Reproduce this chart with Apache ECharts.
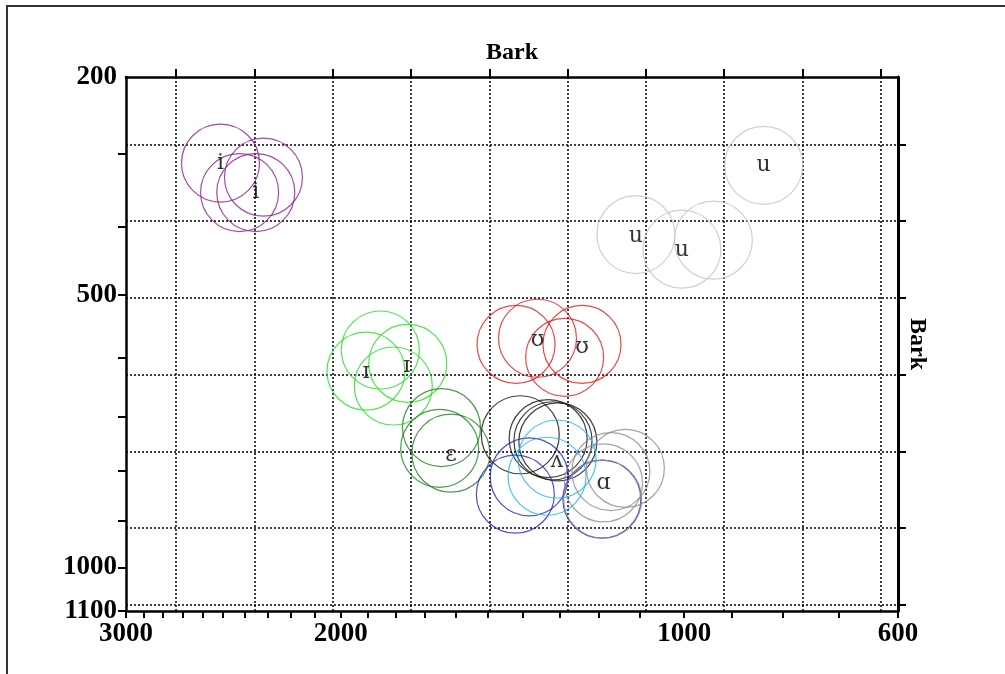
<!DOCTYPE html>
<html><head><meta charset="utf-8">
<script src="https://cdn.jsdelivr.net/npm/echarts@6/dist/echarts.min.js"></script>
<style>html,body{margin:0;padding:0;background:#fff}#c{width:1005px;height:674px}</style>
</head><body><div id="c"></div>
<script>
// ---- data (Hz) ----
const iF2 = [2513, 2317, 2424, 2351];
const iF1 = [312, 331, 352, 352];
const uF2 = [837, 1109, 938, 1005];
const uF1 = [315, 411, 419, 432];
const upsF2 = [1419, 1359, 1241, 1286];
const upsF1 = [578, 568, 578, 599];
const smallIF2 = [1853, 1905, 1807, 1757];
const smallIF1 = [587, 622, 647, 609];
const epsF2 = [1615, 1645, 1651];
const epsF1 = [767, 720, 758];
const wedgeF2 = [1407, 1330, 1317, 1304];
const wedgeF1 = [733, 740, 744, 746];
const cyanF2 = [1306, 1333];
const cyanF1 = [778, 811];
const blueF2 = [1421, 1382, 1191];
const blueF1 = [846, 812, 856];
const alphaF2 = [1134, 1169, 1187, 1189];
const alphaF1 = [796, 802, 824, 856];

const labelText = ['i', 'i', 'u', 'u', 'u', 'ʊ', 'ʊ', 'ɪ', 'ɪ', 'ɛ', 'ʌ', 'ɑ'];
const labelF2 = [2513, 2351, 837, 1109, 1005, 1359, 1241, 1905, 1760, 1615, 1306, 1187];
const labelF1 = [312, 352, 315, 413, 434, 571, 583, 624, 613, 771, 782, 824];

const f2Labels = [3000, 2000, 1000, 600];
const f2Ticks = [3000,2900,2800,2700,2600,2500,2400,2300,2200,2100,2000,1900,1800,1700,1600,1500,1400,1300,1200,1100,1000,900,800,700,600];
const f1Labels = [200, 500, 1000, 1100];
const f1Ticks = [300, 400, 500, 600, 700, 800, 900, 1000, 1100];
const barkTicksX = [6, 7, 8, 9, 10, 11, 12, 13, 14, 15];
const barkTicksY = [3, 4, 5, 6, 7, 8, 9];
const f2Range = [600, 3000];
const f1Range = [200, 1100];

// ---- Bark scale ----
const hzToBark = f => 7 * Math.asinh(f / 650);
const barkToHz = z => 650 * Math.sinh(z / 7);
const hzFmt = v => String(Math.round(barkToHz(v) / 100) * 100);

const labelFont = {fontFamily: 'Liberation Serif', fontWeight: 'bold', fontSize: 27, color: '#000'};
const nameFont = {fontFamily: 'Liberation Serif', fontWeight: 'bold', fontSize: 24, color: '#000'};
const axisLineStyle = {color: '#000', width: 2.5};
const tickStyle = {color: '#000', width: 2};
const dotted = {color: '#000', width: 1.5, type: [2, 2]};

function circles(f2, f1, color) {
  return {
    type: 'scatter', xAxisIndex: 0, yAxisIndex: 0,
    symbol: 'circle', symbolSize: 78, silent: true,
    itemStyle: {color: 'rgba(0,0,0,0)', borderColor: color, borderWidth: 1.2},
    data: f2.map((f, k) => [hzToBark(f), hzToBark(f1[k])])
  };
}

const xMin = hzToBark(f2Range[0]), xMax = hzToBark(f2Range[1]);
const yMin = hzToBark(f1Range[0]), yMax = hzToBark(f1Range[1]);

const option = {
  animation: false,
  backgroundColor: '#fff',
  grid: {left: 126, right: 107, top: 77, bottom: 63, containLabel: false},
  xAxis: [
    {type: 'value', position: 'bottom', min: xMin, max: xMax, inverse: true,
     axisLine: {show: true, onZero: false, lineStyle: axisLineStyle},
     axisTick: {show: true, customValues: f2Ticks.map(hzToBark), length: 7, lineStyle: tickStyle},
     axisLabel: {show: true, customValues: f2Labels.map(hzToBark), formatter: hzFmt, margin: 10, ...labelFont},
     splitLine: {show: false}},
    {type: 'value', position: 'top', min: xMin, max: xMax, inverse: true,
     name: 'Bark', nameLocation: 'middle', nameGap: 12, nameTextStyle: nameFont,
     axisLine: {show: true, onZero: false, lineStyle: axisLineStyle},
     axisTick: {show: true, customValues: barkTicksX, length: 8, lineStyle: tickStyle},
     axisLabel: {show: false},
     splitLine: {show: true, lineStyle: dotted}}
  ],
  yAxis: [
    {type: 'value', position: 'left', min: yMin, max: yMax, inverse: true,
     axisLine: {show: true, onZero: false, lineStyle: axisLineStyle},
     axisTick: {show: true, customValues: f1Ticks.map(hzToBark), length: 8, lineStyle: tickStyle},
     axisLabel: {show: true, customValues: f1Labels.map(hzToBark), formatter: hzFmt, margin: 9, ...labelFont},
     splitLine: {show: false}},
    {type: 'value', position: 'right', min: yMin, max: yMax, inverse: true,
     name: 'Bark', nameLocation: 'middle', nameGap: 7, nameRotate: -90, nameTextStyle: nameFont,
     axisLine: {show: true, onZero: false, lineStyle: {color: '#000', width: 3}},
     axisTick: {show: true, customValues: barkTicksY, length: 8, lineStyle: tickStyle},
     axisLabel: {show: false},
     splitLine: {show: true, lineStyle: dotted}}
  ],
  graphic: [{type: 'polyline', silent: true,
    shape: {points: [[7, 674], [7, 6], [1005, 6]]},
    style: {stroke: '#333', lineWidth: 2, fill: null}}],
  series: [
    circles(iF2, iF1, '#8a1f8a'),
    circles(uF2, uF1, '#c4c4c4'),
    circles(upsF2, upsF1, '#e01c1c'),
    circles(smallIF2, smallIF1, '#22e022'),
    circles(epsF2, epsF1, '#1c801c'),
    circles(wedgeF2, wedgeF1, '#111111'),
    circles(blueF2, blueF1, '#2020cc'),
    circles(alphaF2, alphaF1, '#8c8c8c'),
    circles(cyanF2, cyanF1, '#1eb2ec'),
    {type: 'scatter', xAxisIndex: 0, yAxisIndex: 0, silent: true,
     symbol: 'circle', symbolSize: 1, itemStyle: {color: 'rgba(0,0,0,0)'},
     label: {show: true, position: 'inside', formatter: p => p.name,
             fontFamily: 'DejaVu Serif', fontSize: 22, color: '#000'},
     data: labelText.map((t, k) => ({name: t, value: [hzToBark(labelF2[k]), hzToBark(labelF1[k])]}))}
  ]
};
echarts.init(document.getElementById('c'), null, {renderer: 'canvas'}).setOption(option);
</script>
</body></html>
